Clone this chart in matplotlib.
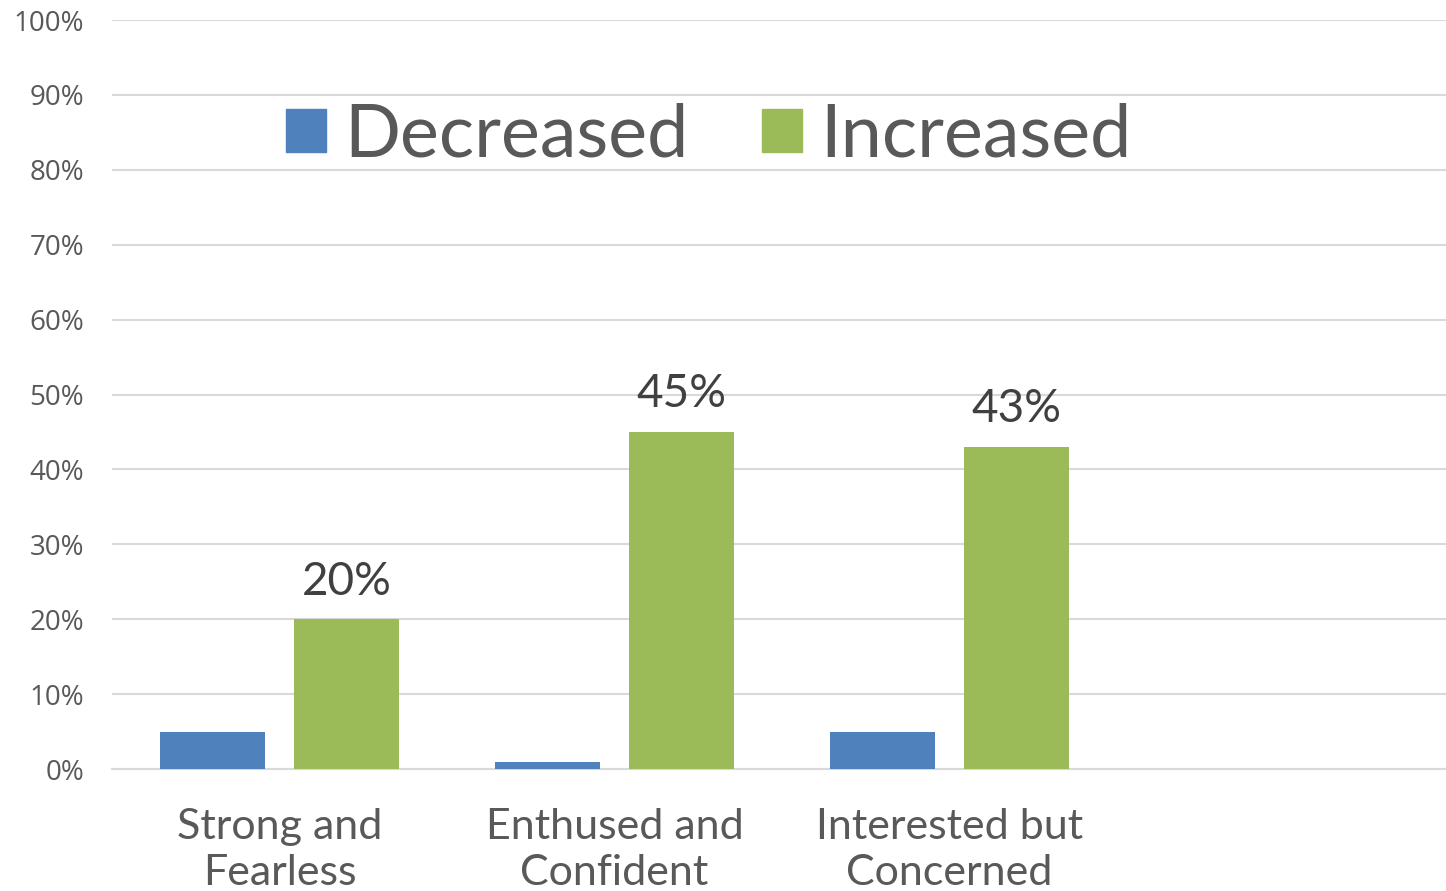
import numpy as np
from matplotlib import pyplot as plt
from matplotlib.patches import Patch

categories = ["Strong and\nFearless", "Enthused and\nConfident", "Interested but\nConcerned", ""]
decreased = [5, 1, 5, None]
increased = [20, 45, 43, None]
label_increased = ["20%", "45%", "43%"]
yticks = list(range(0, 101, 10))

blue = "#4F81BD"
green = "#9BBB59"
grey = "#595959"

fig = plt.figure(figsize=(14.46, 8.91), dpi=100)
ax = fig.add_axes([112/1446, 122/891, 1340/1446, 749/891])

x = np.arange(len(categories))
w = 0.313
dec = [np.nan if v is None else v for v in decreased]
inc = [np.nan if v is None else v for v in increased]
ax.bar(x - 0.2, dec, width=w, color=blue, zorder=3)
bars = ax.bar(x + 0.2, inc, width=w, color=green, zorder=3)

for b, lab in zip(bars, label_increased):
    ax.text(b.get_x() + b.get_width()/2, b.get_height() + 2.2, lab,
            ha="center", va="bottom", fontsize=33, color="#404040", family="Lato")

ax.set_xlim(-0.5, 3.5)
ax.set_ylim(0, 100)
ax.set_yticks(yticks)
ax.set_yticklabels([f"{t}%" for t in yticks], fontsize=20, color=grey, family="Open Sans")
ax.set_xticks(x)
ax.set_xticklabels(categories, fontsize=31, color=grey, family="Lato", linespacing=1.25)
ax.tick_params(length=0)
ax.tick_params(axis="y", pad=20)
ax.tick_params(axis="x", pad=28)
ax.grid(axis="y", color="#D9D9D9", lw=1.5, zorder=0)
for s in ["left", "right", "top"]:
    ax.spines[s].set_visible(False)
ax.spines["bottom"].set_color("#D9D9D9")
ax.spines["bottom"].set_linewidth(1.5)

handles = [Patch(color=blue), Patch(color=green)]
fig.legend(handles, ["Decreased", "Increased"], loc="center", bbox_to_anchor=(709/1446, 1 - 136/891),
           ncol=2, frameon=False, prop={"family": "Lato", "size": 53}, labelcolor=grey,
           handlelength=0.54, handleheight=0.54, handletextpad=0.25, columnspacing=1.0)

fig.savefig("out.png", dpi=100)
